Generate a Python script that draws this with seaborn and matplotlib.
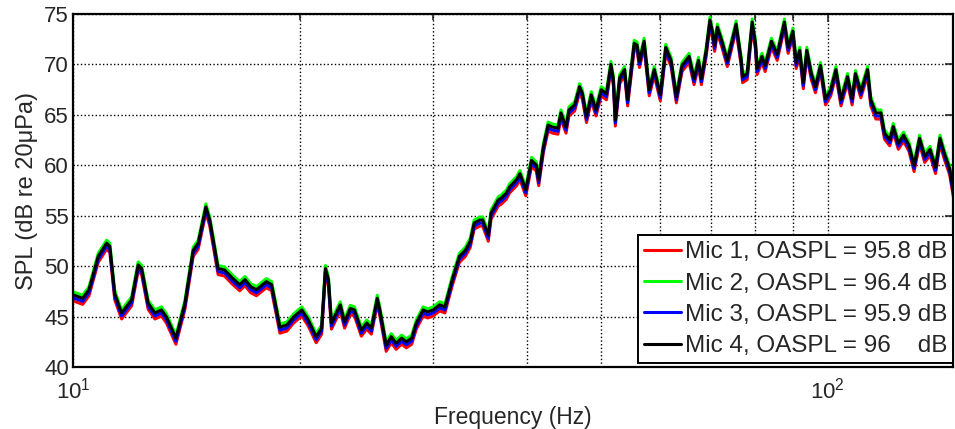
import numpy as np
import pandas as pd
import matplotlib
matplotlib.use("Agg")
import matplotlib.pyplot as plt
import seaborn as sns
from matplotlib.ticker import LogLocator

# Mic 4 spectrum (Hz, dB re 20 uPa)
freq_hz = [
    10.0, 10.3, 10.5, 10.8, 11.08, 11.19, 11.36, 11.6, 11.96, 12.2, 12.33, 12.58,
    12.84, 13.1, 13.3, 13.69, 14.07, 14.43, 14.65, 15.0, 15.18, 15.57, 15.88, 16.29,
    16.63, 16.9, 17.2, 17.5, 18.04, 18.33, 18.8, 19.2, 19.6, 20.1, 20.5, 21.0,
    21.35, 21.6, 21.8, 22.0, 22.2, 22.6, 22.9, 23.3, 23.6, 24.1, 24.5, 24.85,
    25.3, 25.5, 26.0, 26.4, 26.8, 27.25, 27.65, 28.1, 28.5, 29.1, 29.5, 30.0,
    30.6, 31.1, 31.8, 32.5, 33.1, 33.6, 34.0, 34.6, 34.9, 35.5, 35.8, 36.6,
    36.9, 37.5, 37.9, 38.7, 39.1, 39.8, 40.5, 41.1, 41.4, 42.0, 42.6, 43.2,
    43.9, 44.3, 45.0, 45.4, 46.2, 46.9, 47.3, 47.9, 48.6, 49.3, 50.1, 50.9,
    51.6, 52.0, 52.3, 53.0, 53.8, 54.3, 55.4, 55.9, 56.3, 57.1, 58.0, 58.9,
    60.0, 61.0, 62.0, 63.0, 64.1, 65.5, 66.5, 67.4, 68.0, 69.0, 69.8, 70.4,
    70.8, 71.4, 72.4, 73.6, 75.6, 76.8, 77.1, 78.2, 79.4, 80.2, 80.6, 81.8,
    82.6, 84.2, 85.7, 87.6, 88.6, 89.9, 90.8, 91.8, 92.8, 93.8, 95.1, 96.3,
    97.8, 99.3, 100.9, 102.5, 104.1, 106.2, 107.7, 108.8, 110.6, 112.9, 114.0, 115.8,
    117.6, 118.9, 120.8, 122.1, 124.0, 126.0, 128.1, 130.1, 132.3, 134.4, 136.6, 138.9,
    140.8, 142.7, 145.0, 147.5, 150.0,
]
spl_mic4 = [
    47.2, 46.85, 47.7, 51.0, 52.3, 52.0, 47.3, 45.4, 46.7, 50.15, 49.8, 46.35,
    45.4, 45.7, 45.0, 42.9, 46.35, 51.6, 52.3, 55.9, 54.6, 49.8, 49.65, 48.8,
    48.2, 48.7, 48.0, 47.7, 48.5, 48.2, 44.0, 44.2, 45.0, 45.7, 44.7, 43.05,
    43.9, 49.8, 48.7, 44.4, 45.0, 46.2, 44.5, 45.85, 45.7, 43.7, 44.4, 43.9,
    46.85, 45.7, 42.2, 43.05, 42.4, 42.9, 42.55, 42.9, 44.4, 45.7, 45.5, 45.7,
    46.2, 46.0, 48.7, 51.0, 51.6, 52.5, 54.3, 54.6, 54.6, 53.1, 55.3, 56.6,
    56.75, 57.25, 57.9, 58.6, 59.2, 57.6, 60.5, 60.05, 58.6, 61.9, 64.0, 63.8,
    63.7, 65.2, 63.8, 65.5, 66.0, 67.8, 67.15, 64.85, 67.0, 65.5, 67.5, 67.1,
    70.0, 68.5, 64.5, 68.7, 69.5, 66.5, 72.1, 71.9, 70.3, 72.3, 67.5, 69.5,
    67.0, 71.7, 70.4, 66.8, 69.9, 70.8, 68.6, 70.4, 68.6, 71.4, 74.4, 73.1,
    71.9, 73.7, 72.3, 70.4, 74.0, 70.4, 68.8, 69.1, 74.2, 72.1, 69.6, 70.8,
    69.9, 72.3, 71.0, 74.2, 71.7, 73.3, 70.2, 71.4, 68.2, 71.4, 69.1, 67.8,
    69.9, 66.6, 67.5, 69.5, 66.5, 68.8, 66.6, 69.1, 67.3, 69.5, 66.5, 65.2,
    65.2, 63.2, 62.55, 63.85, 62.2, 63.0, 62.0, 60.0, 62.7, 60.9, 61.6, 59.8,
    62.7, 61.2, 59.7, 56.4, 56.1,
]

# the four mics nearly overlap; level difference of each relative to Mic 4
mic_names = [
    "Mic 1, OASPL = 95.8 dB",
    "Mic 2, OASPL = 96.4 dB",
    "Mic 3, OASPL = 95.9 dB",
    "Mic 4, OASPL = 96    dB",
]
mic_offsets = [-0.6, 0.3, -0.3, 0.0]
mic_colors = ["#ff0000", "#00ff00", "#0000ff", "#000000"]

frames = []
for name, off in zip(mic_names, mic_offsets):
    frames.append(pd.DataFrame({
        "freq": freq_hz,
        "spl": np.array(spl_mic4) + off,
        "mic": name,
    }))
df = pd.concat(frames, ignore_index=True)

sns.set_style("white")
plt.rcParams["font.family"] = ["Liberation Sans", "DejaVu Sans"]

fig = plt.figure(figsize=(9.55, 4.29), dpi=100)
ax = fig.add_axes([0.0764, 0.1434, 0.9215, 0.824])

sns.lineplot(data=df, x="freq", y="spl", hue="mic", palette=mic_colors,
             estimator=None, linewidth=2.2, ax=ax)

ax.set_xscale("log")
ax.set_xlim(10, 146.5)
ax.set_ylim(40, 75)
ax.set_yticks(np.arange(40, 76, 5))
ax.xaxis.set_minor_locator(LogLocator(base=10, subs=np.arange(2, 10)))
ax.xaxis.set_minor_formatter(plt.NullFormatter())

ax.grid(True, which="both", axis="x", color="black", linestyle=":", linewidth=1)
ax.grid(True, which="major", axis="y", color="black", linestyle=":", linewidth=1)

ax.tick_params(which="both", direction="in", top=True, right=True, labelsize=16)
ax.tick_params(which="major", length=6, width=1.2)
ax.tick_params(which="minor", length=4, width=1.2)
ax.tick_params(axis="x", which="major", pad=7)
ax.tick_params(axis="y", which="major", pad=3)
for s in ax.spines.values():
    s.set_color("black")
    s.set_linewidth(1.6)

ax.set_xlabel("Frequency (Hz)", fontsize=16.5, labelpad=2)
ax.set_ylabel("SPL (dB re 20μPa)", fontsize=17, labelpad=4)

leg = ax.legend(loc="lower right", bbox_to_anchor=(1.0, 0.012), fontsize=17.5,
                frameon=True, fancybox=False, edgecolor="black", framealpha=1,
                handlelength=1.5, handletextpad=0.15, labelspacing=0.38,
                borderpad=0.25, borderaxespad=0.0)
leg.get_frame().set_linewidth(1.4)

fig.savefig("out.png", dpi=100)
